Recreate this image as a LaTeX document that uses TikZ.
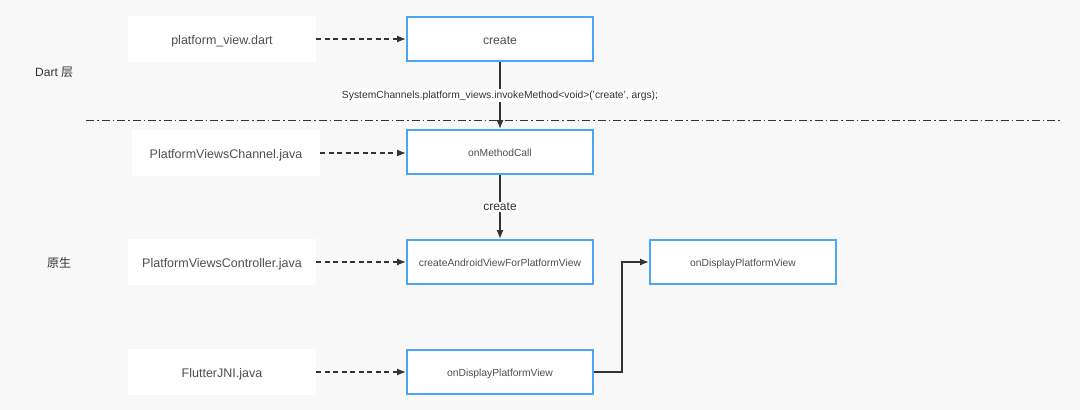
\documentclass[tikz,border=0pt]{standalone}
\usepackage{fontspec}
\setmainfont{Liberation Sans}
\newfontfamily\cjk{Noto Sans CJK SC}
\usetikzlibrary{arrows.meta}
\definecolor{bgc}{HTML}{F8F8F8}
\definecolor{bluec}{HTML}{4DA6F5}
\definecolor{txtc}{HTML}{4F4F4F}
\definecolor{linec}{HTML}{333333}
\tikzset{
  filebox/.style={fill=white, draw=none, minimum width=188pt, minimum height=46pt, inner sep=0pt, text=txtc, font=\fontsize{12.5}{14}\selectfont, text height=12.5pt, text depth=2.5pt},
  funcbox/.style={fill=white, draw=bluec, line width=2pt, minimum width=186pt, minimum height=44pt, inner sep=0pt, text=txtc, font=\fontsize{10.3}{12}\selectfont, text height=11pt, text depth=1.6pt},
  dasharrow/.style={draw=linec, line width=1.3pt, dash pattern=on 5pt off 3.5pt, -{Latex[length=9pt,width=7pt]}},
  solidarrow/.style={draw=linec, line width=1.3pt, -{Latex[length=9pt,width=7pt]}},
  lbl/.style={fill=white, inner sep=1.5pt, text=linec},
  layer/.style={text=linec, font=\fontsize{12}{14}\selectfont, inner sep=0pt}
}
\begin{document}
\begin{tikzpicture}[x=1pt,y=-1pt]
\fill[bgc] (0,0) rectangle (1080,410);
\useasboundingbox (0,0) rectangle (1080,410);
% file boxes
\node[filebox] (f1) at (222,39) {platform\_view.dart};
\node[filebox] (f2) at (226,153) {PlatformViewsChannel.java};
\node[filebox] (f3) at (222,262) {PlatformViewsController.java};
\node[filebox] (f4) at (222,372) {FlutterJNI.java};
% function boxes
\node[funcbox, font=\fontsize{12.2}{14}\selectfont, text height=12.5pt, text depth=2.5pt] (c1) at (500,39) {create};
\node[funcbox] (c2) at (500,152) {onMethodCall};
\node[funcbox] (c3) at (500,262) {createAndroidViewForPlatformView};
\node[funcbox] (c4) at (500,372) {onDisplayPlatformView};
\node[funcbox] (c5) at (743,262) {onDisplayPlatformView};
% layer labels
\node[layer, anchor=west] (dart) at (35,72) {Dart {\cjk 层}};
\node[layer] (native) at (59,263) {\cjk 原生};
% separator
\coordinate (sepL) at (86,120.5);
\coordinate (sepR) at (1062,120.5);
\draw[linec, line width=1.2pt, dash pattern=on 8pt off 3pt on 1.5pt off 3pt] (sepL) -- (sepR);
% dashed arrows
\draw[dasharrow] (f1.east) -- (c1.west);
\draw[dasharrow] (f2.east) -- (c2.west |- f2.east);
\draw[dasharrow] (f3.east) -- (c3.west);
\draw[dasharrow] (f4.east) -- (c4.west);
% solid arrows
\draw[solidarrow] (c1.south) -- node[lbl, pos=0.5, font=\fontsize{10.3}{12}\selectfont] {SystemChannels.platform\_views.invokeMethod<void>('create', args);} (c2.north);
\draw[solidarrow] (c2.south) -- node[lbl, pos=0.5, font=\fontsize{12}{14}\selectfont] {create} (c3.north);
\coordinate (bend) at (622,372);
\draw[solidarrow] (c4.east) -- (bend) |- (c5.west);
\end{tikzpicture}
\end{document}
